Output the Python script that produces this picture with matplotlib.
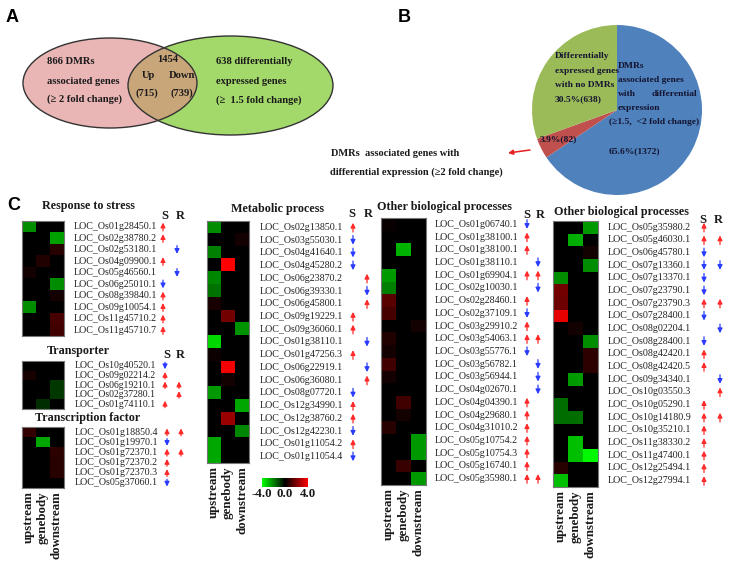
import numpy as np
import matplotlib
matplotlib.use('Agg')
import matplotlib.pyplot as plt
from matplotlib.patches import Ellipse
from matplotlib.colors import LinearSegmentedColormap

# ---------------- data ----------------
venn_left_only = 866
venn_overlap = 1454
venn_up = 715
venn_down = 739
venn_right_only = 638

pie_values = [1372, 82, 638]
pie_pct = [65.6, 3.9, 30.5]
pie_colors = ['#4f81bd', '#c0504d', '#9bbb59']

cols = ['upstream', 'genebody', 'downstream']

stress_genes = ['LOC_Os01g28450.1', 'LOC_Os02g38780.2', 'LOC_Os02g53180.1', 'LOC_Os04g09900.1',
                'LOC_Os05g46560.1', 'LOC_Os06g25010.1', 'LOC_Os08g39840.1', 'LOC_Os09g10054.1',
                'LOC_Os11g45710.2', 'LOC_Os11g45710.7']
stress_vals = [[-2.2, 0, 0], [0, 0, -2.5], [0, 0, 0.6], [0, 0.5, 0], [0.3, 0, 0],
               [0, 0, -2.2], [0, 0, 0.3], [-2.2, 0, 0], [0, 0, 1.1], [0, 0, 1.0]]
stress_S = [1, 1, 0, 1, 0, -1, 1, 1, 1, 1]
stress_R = [0, 0, -1, 0, -1, 0, 0, 0, 0, 0]

transp_genes = ['LOC_Os10g40520.1', 'LOC_Os09g02214.2', 'LOC_Os06g19210.1', 'LOC_Os02g37280.1',
                'LOC_Os01g74110.1']
transp_vals = [[0, 0, 0], [0.4, 0, 0], [0, 0, -0.9], [0, 0, -0.9], [0, -0.7, 0]]
transp_S = [-1, 1, 1, 0, 1]
transp_R = [0, 0, 1, 1, 0]

tf_genes = ['LOC_Os01g18850.4', 'LOC_Os01g19970.1', 'LOC_Os01g72370.1', 'LOC_Os01g72370.2',
            'LOC_Os01g72370.3', 'LOC_Os05g37060.1']
tf_vals = [[0.8, 0, 0], [0, -2.6, 0], [0, 0, 0.7], [0, 0, 0.6], [0, 0, 0.6], [0, 0, 0]]
tf_S = [1, -1, 1, 1, 1, -1]
tf_R = [1, 0, 1, 0, 0, 0]

metab_genes = ['LOC_Os02g13850.1', 'LOC_Os03g55030.1', 'LOC_Os04g41640.1', 'LOC_Os04g45280.2',
               'LOC_Os06g23870.2', 'LOC_Os06g39330.1', 'LOC_Os06g45800.1', 'LOC_Os09g19229.1',
               'LOC_Os09g36060.1', 'LOC_Os01g38110.1', 'LOC_Os01g47256.3', 'LOC_Os06g22919.1',
               'LOC_Os06g36080.1', 'LOC_Os08g07720.1', 'LOC_Os12g34990.1', 'LOC_Os12g38760.2',
               'LOC_Os12g42230.1', 'LOC_Os01g11054.2', 'LOC_Os01g11054.4']
metab_vals = [[-2.2, 0, 0], [0, 0, 0.3], [-2.0, 0, 0], [0, 4.0, 0], [-2.1, 0, 0], [-1.8, 0, 0],
              [0.4, 0, 0], [0, 1.8, 0], [0, 0, -2.3], [-3.4, 0, 0], [0.2, 0, 0], [0, 3.8, 0],
              [0, 0.3, 0], [-2.4, 0, 0], [0, 0, -2.6], [0, 2.4, 0], [0, 0, -2.1], [-2.6, 0, 0],
              [-2.6, 0, 0]]
metab_S = [1, -1, -1, -1, 0, 0, 0, 1, 1, 0, 1, 0, 0, -1, 1, 1, -1, 1, -1]
metab_R = [0, 0, 0, 0, 1, -1, 1, 0, 0, -1, 0, -1, 1, 0, 0, 0, 0, 0, 0]

other1_genes = ['LOC_Os01g06740.1', 'LOC_Os01g38100.1', 'LOC_Os01g38100.1', 'LOC_Os01g38110.1',
                'LOC_Os01g69904.1', 'LOC_Os02g10030.1', 'LOC_Os02g28460.1', 'LOC_Os02g37109.1',
                'LOC_Os03g29910.2', 'LOC_Os03g54063.1', 'LOC_Os03g55776.1', 'LOC_Os03g56782.1',
                'LOC_Os03g56944.1', 'LOC_Os04g02670.1', 'LOC_Os04g04390.1', 'LOC_Os04g29680.1',
                'LOC_Os04g31010.2', 'LOC_Os05g10754.2', 'LOC_Os05g10754.3', 'LOC_Os05g16740.1',
                'LOC_Os05g35980.1']
other1_vals = [[0.15, 0, 0], [0, 0, 0], [0, -2.8, 0], [0, 0, 0], [-2.4, 0, 0], [-2.0, 0, 0],
               [1.4, 0, 0], [1.1, 0, 0], [0, 0, 0.3], [0.5, 0, 0], [0.3, 0, 0], [1.0, 0, 0],
               [0.3, 0, 0], [0, 0, 0], [0, 1.0, 0], [0, 0.3, 0], [0.6, 0, 0], [0, 0, -2.4],
               [0, 0, -2.4], [0, 0.9, 0], [0, 0, -2.4]]
other1_S = [-1, 1, 1, 0, 1, 0, 1, -1, 1, 1, -1, 0, 0, 0, 1, 1, 1, 1, 1, 1, 1]
other1_R = [0, 0, 0, -1, 1, -1, 0, 0, 0, 1, 0, -1, -1, -1, 0, 0, 0, 0, 0, 0, 1]

other2_genes = ['LOC_Os05g35980.2', 'LOC_Os05g46030.1', 'LOC_Os06g45780.1', 'LOC_Os07g13360.1',
                'LOC_Os07g13370.1', 'LOC_Os07g23790.1', 'LOC_Os07g23790.3', 'LOC_Os07g28400.1',
                'LOC_Os08g02204.1', 'LOC_Os08g28400.1', 'LOC_Os08g42420.1', 'LOC_Os08g42420.5',
                'LOC_Os09g34340.1', 'LOC_Os10g03550.3', 'LOC_Os10g05290.1', 'LOC_Os10g14180.9',
                'LOC_Os10g35210.1', 'LOC_Os11g38330.2', 'LOC_Os11g47400.1', 'LOC_Os12g25494.1',
                'LOC_Os12g27994.1']
other2_vals = [[0, 0, -2.4], [0, -2.7, 0], [0, 0, 0.3], [0, 0, -2.2], [-2.2, 0, 0], [1.8, 0, 0],
               [1.7, 0, 0], [3.6, 0, 0], [0, 0.3, 0], [0, 0, -2.2], [0, 0, 0.7], [0, 0, 0.7],
               [0, -2.4, 0], [0, 0, 0], [-1.7, 0, 0], [-1.7, -1.7, 0], [0, 0, 0], [0, -3.0, 0],
               [0, -3.0, -3.9], [0.6, 0, 0], [-3.0, 0, 0]]
other2_S = [1, 1, -1, -1, -1, -1, 1, -1, 0, -1, 1, 1, 0, 0, 1, 1, 1, 1, 1, 1, 1]
other2_R = [0, 1, 0, -1, 0, 0, 1, 0, -1, 0, 0, 0, -1, 1, 0, 1, 0, 0, 0, 0, 0]

# ---------------- setup ----------------
W, H = 735, 573
fig = plt.figure(figsize=(W / 100, H / 100), dpi=100)
SERIF = ['Liberation Serif', 'DejaVu Serif']
SANS = ['Liberation Sans', 'DejaVu Sans']
TXT = '#1a1a1a'
UPC = '#ff2a2a'
DNC = '#2a3cff'

cmap = LinearSegmentedColormap.from_list('gbr', [(0, 1, 0), (0, 0, 0), (1, 0, 0)])


def box(x0, y0, x1, y1):
    return [x0 / W, 1 - y1 / H, (x1 - x0) / W, (y1 - y0) / H]


def draw_group(hm, lx0, sx, rx, genes, vals, S, R, fs=7.2, col_labels=False):
    x0, y0, x1, y1 = hm
    n = len(genes)
    ax = fig.add_axes(box(x0, y0, x1, y1))
    im = ax.imshow(np.array(vals), cmap=cmap, vmin=-4, vmax=4, aspect='auto',
                   interpolation='nearest', extent=(0, 3, n, 0))
    ax.set_xlim(0, 3)
    ax.set_ylim(n, 0)
    ax.set_yticks([])
    if col_labels:
        ax.set_xticks([0.5, 1.5, 2.5])
        ax.set_xticklabels(cols, rotation=90, fontfamily=SERIF, fontweight='bold',
                           fontsize=9.3, color=TXT)
        ax.tick_params(axis='x', length=0, pad=2.5)
    else:
        ax.set_xticks([])
    for sp in ax.spines.values():
        sp.set_color('#777777')
        sp.set_linewidth(0.8)
    lax = fig.add_axes(box(lx0, y0, rx + 8, y1))
    lax.set_xlim(lx0, rx + 8)
    lax.set_ylim(n, 0)
    lax.axis('off')
    for i, g in enumerate(genes):
        yc = i + 0.5
        lax.text(lx0, yc, g, fontfamily=SERIF, fontsize=fs, ha='left', va='center', color='#222222')
        for flag, xx in ((S[i], sx), (R[i], rx)):
            if flag:
                c = UPC if flag > 0 else DNC
                hl = 0.36
                tail, head = (yc + hl, yc - hl) if flag > 0 else (yc - hl, yc + hl)
                lax.annotate('', xy=(xx, head), xytext=(xx, tail),
                             arrowprops=dict(arrowstyle='-|>', color=c, lw=0.9,
                                             mutation_scale=7, shrinkA=0, shrinkB=0))
    return im


# ---------------- panel C heatmaps ----------------
im = draw_group((22, 221, 64, 336), 74, 163, 177, stress_genes, stress_vals, stress_S, stress_R)
draw_group((22, 361, 64, 409), 75, 165, 179, transp_genes, transp_vals, transp_S, transp_R, fs=7.0)
draw_group((22, 427, 64, 488), 75, 167, 181, tf_genes, tf_vals, tf_S, tf_R, col_labels=True)
draw_group((207, 221, 249, 463), 260, 353, 367, metab_genes, metab_vals, metab_S, metab_R,
           col_labels=True)
draw_group((381, 218, 426, 485), 435, 527, 538, other1_genes, other1_vals, other1_S, other1_R,
           col_labels=True)
draw_group((553, 221, 598, 487), 608, 704, 720, other2_genes, other2_vals, other2_S, other2_R,
           col_labels=True)

# colorbar
cax = fig.add_axes(box(262, 478, 308, 487))
cb = fig.colorbar(im, cax=cax, orientation='horizontal', ticks=[-4, 0, 4])
cb.outline.set_visible(False)
cb.set_ticklabels(['-4.0', '0.0', '4.0'])
cax.tick_params(length=0, pad=1)
for t in cax.get_xticklabels():
    t.set_fontfamily(SERIF)
    t.set_fontweight('bold')
    t.set_fontsize(9.3)
    t.set_color(TXT)

# ---------------- panel B pie ----------------
pax = fig.add_axes(box(532, 25, 702, 195))
pax.pie(pie_values, colors=pie_colors, startangle=90, counterclock=False, radius=1,
        wedgeprops=dict(linewidth=0))
pax.set_xlim(-1, 1)
pax.set_ylim(-1, 1)
pax.set_aspect('equal')

# ---------------- overlay (Venn + text) ----------------
ov = fig.add_axes([0, 0, 1, 1])
ov.set_xlim(0, W)
ov.set_ylim(H, 0)
ov.axis('off')

left = Ellipse((110, 83), 174, 90, facecolor='#e9b5b5', edgecolor='none')
right = Ellipse((230.5, 85.5), 205, 99, facecolor='#a3d86a', edgecolor='none')
ov.add_patch(left)
ov.add_patch(right)
inter = Ellipse((230.5, 85.5), 205, 99, facecolor='#c9a67a', edgecolor='none')
ov.add_patch(inter)
inter.set_clip_path(left)
ov.add_patch(Ellipse((110, 83), 174, 90, fill=False, edgecolor='#333333', lw=1))
ov.add_patch(Ellipse((230.5, 85.5), 205, 99, fill=False, edgecolor='#333333', lw=1))

vk = dict(fontfamily=SERIF, fontweight='bold', fontsize=7.6, color=TXT, va='center')
ov.text(47, 62, f'{venn_left_only} DMRs', ha='left', **vk)
ov.text(47, 81, 'associated genes', ha='left', **vk)
ov.text(47, 99, '(≥ 2 fold change)', ha='left', **vk)
ov.text(168, 59, f'{venn_overlap}', ha='center', **vk)
ov.text(148, 76, 'Up', ha='center', **vk)
ov.text(182, 76, 'Down', ha='center', **vk)
ov.text(147, 93, f'({venn_up})', ha='center', **vk)
ov.text(182, 93, f'({venn_down})', ha='center', **vk)
ov.text(216, 62, f'{venn_right_only} differentially', ha='left', **vk)
ov.text(216, 81, 'expressed genes', ha='left', **vk)
ov.text(216, 100, '(≥  1.5 fold change)', ha='left', **vk)

pk = dict(fontfamily=SERIF, fontweight='bold', fontsize=6.8, color='#141430', va='center', ha='left')
ov.text(555, 56, 'Differentially', **pk)
ov.text(555, 71, 'expressed genes', **pk)
ov.text(555, 85, 'with no DMRs', **pk)
ov.text(555, 99, f'{pie_pct[2]}%({pie_values[2]})', **pk)
ov.text(618, 66, 'DMRs', **pk)
ov.text(618, 80, 'associated genes', **pk)
ov.text(618, 94, 'with', **pk)
ov.text(697, 94, 'differential', **{**pk, 'ha': 'right'})
ov.text(618, 108, 'expression', **pk)
ov.text(609, 122, '(≥1.5,  <2 fold change)', **pk)
ov.text(540, 139, f'{pie_pct[1]}%({pie_values[1]})', **pk)
ov.text(609, 151, f'{pie_pct[0]}%({pie_values[0]})', **pk)

bk = dict(fontfamily=SERIF, fontweight='bold', fontsize=7.5, color=TXT, va='center', ha='left')
ov.text(331, 153, 'DMRs  associated genes with', **bk)
ov.text(330, 172, 'differential expression (≥2 fold change)', **bk)
ov.annotate('', xy=(508, 153), xytext=(530, 150),
            arrowprops=dict(arrowstyle='-|>', color='#e82020', lw=1.1, mutation_scale=7,
                            shrinkA=0, shrinkB=0))

# panel letters
lk = dict(fontfamily=SANS, fontweight='bold', fontsize=13, color='black', va='center', ha='center')
ov.text(12, 18, 'A', **lk)
ov.text(404, 18, 'B', **lk)
ov.text(14, 206, 'C', **lk)

# group titles and S/R headers
tk = dict(fontfamily=SERIF, fontweight='bold', fontsize=8.7, color=TXT, va='center')
ov.text(88, 206, 'Response to stress', ha='center', **tk)
ov.text(78, 351, 'Transporter', ha='center', **tk)
ov.text(88, 418, 'Transcription factor', ha='center', **tk)
ov.text(278, 209, 'Metabolic process', ha='center', **tk)
ov.text(377, 207, 'Other biological processes', ha='left', **tk)
ov.text(554, 212, 'Other biological processes', ha='left', **tk)

sk = dict(fontfamily=SERIF, fontweight='bold', fontsize=9, color=TXT, va='center', ha='center')
for (xs, xr, yy) in [(165, 180, 216), (167, 180, 355), (352, 368, 214), (527, 540, 215),
                     (703, 718, 220)]:
    ov.text(xs, yy, 'S', **sk)
    ov.text(xr, yy, 'R', **sk)

fig.savefig('out.png', dpi=100)
